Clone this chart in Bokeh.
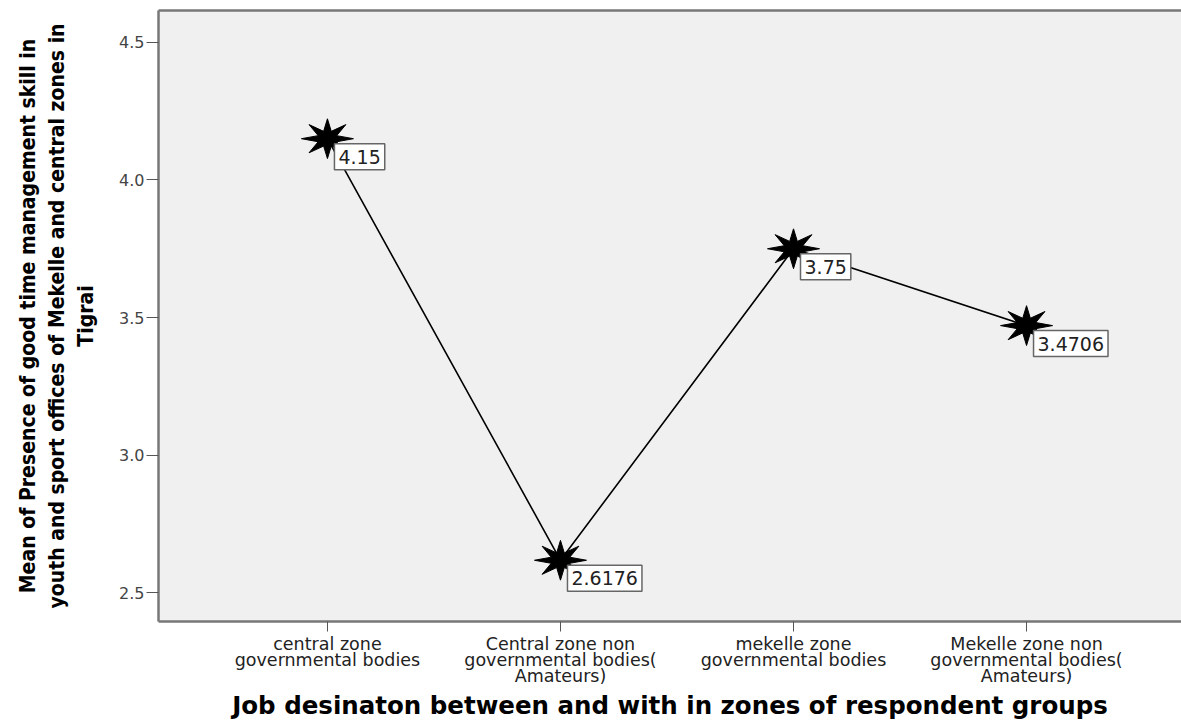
from bokeh.plotting import figure
from bokeh.models import Range1d, FixedTicker, PrintfTickFormatter, Label, LinearAxis
from bokeh.embed import file_html
from bokeh.resources import INLINE
import math

# ---- data ----
categories = [
    "central zone\ngovernmental bodies",
    "Central zone non\ngovernmental bodies(\nAmateurs)",
    "mekelle zone\ngovernmental bodies",
    "Mekelle zone non\ngovernmental bodies(\nAmateurs)",
]
means = [4.15, 2.6176, 3.75, 3.4706]
mean_labels = ["4.15", "2.6176", "3.75", "3.4706"]
y_ticks = [2.5, 3.0, 3.5, 4.0, 4.5]

x_title = "Job desinaton between and with in zones of respondent groups"
y_title = ("Mean of Presence of good time management skill in\n"
           "youth and sport offices of Mekelle and central zones in\n"
           "Tigrai")

xs = list(range(len(categories)))

W, H = 1181, 723
BL, BR, BT, BB = 158, 0, 10, 99
x0, x1 = -0.725, 3.665
y0, y1 = 2.395, 4.616

p = figure(width=W, height=H, output_backend="svg", toolbar_location=None,
           x_range=Range1d(x0, x1), y_range=Range1d(y0, y1),
           min_border_left=BL, min_border_right=BR, min_border_top=BT, min_border_bottom=BB)
p.background_fill_color = "#f0f0f0"
p.border_fill_color = "white"
p.outline_line_color = None
p.grid.visible = False

frame_color = "#777777"

fw = W - BL - BR
fh = H - BT - BB
sx = fw / (x1 - x0)
sy = fh / (y1 - y0)

# top frame line (axis without ticks/labels)
top = LinearAxis(ticker=FixedTicker(ticks=[]),
                 axis_line_color=frame_color, axis_line_width=2.5,
                 major_tick_line_color=None, minor_tick_line_color=None)
p.add_layout(top, "above")

# x axis
xa = p.below[0]
xa.ticker = FixedTicker(ticks=xs)
xa.major_label_overrides = {i: c for i, c in enumerate(categories)}
xa.major_label_text_font = "DejaVu Sans"
xa.major_label_text_font_size = "17.5px"
xa.major_label_text_line_height = 0.82
xa.major_label_text_color = "#222222"
xa.major_label_standoff = 2
xa.major_tick_out = 10
xa.major_tick_in = 0
xa.minor_tick_line_color = None
xa.axis_line_color = frame_color
xa.axis_line_width = 2.5
xa.major_tick_line_color = "#555555"
xa.axis_label = x_title
xa.axis_label_text_font = "DejaVu Sans"
xa.axis_label_text_font_style = "bold"
xa.axis_label_text_font_size = "24.5px"
xa.axis_label_text_color = "black"
xa.axis_label_standoff = 2

# y axis
ya = p.left[0]
ya.ticker = FixedTicker(ticks=y_ticks)
ya.formatter = PrintfTickFormatter(format="%.1f")
ya.major_label_text_font = "DejaVu Sans"
ya.major_label_text_font_size = "16px"
ya.major_label_text_color = "#444444"
ya.major_label_standoff = 2
ya.major_tick_out = 12
ya.major_tick_in = 0
ya.minor_tick_line_color = None
ya.axis_line_color = frame_color
ya.axis_line_width = 2.5
ya.major_tick_line_color = "#555555"
ya.axis_label = y_title
ya.axis_label_text_font = "'DejaVu Sans Condensed', 'Roboto Condensed', 'Noto Sans', sans-serif"
ya.axis_label_text_font_style = "bold"
ya.axis_label_text_font_size = "21px"
ya.axis_label_text_line_height = 1.2
ya.axis_label_text_color = "black"
ya.axis_label_standoff = 18

# line
p.line(xs, means, line_color="black", line_width=1.6)

# 8-pointed stars around each point
rxo, ryo = 26 / sx, 20 / sy
rxi, ryi = 10 / sx, 8 / sy
star_xs, star_ys = [], []
for xv, yv in zip(xs, means):
    px, py = [], []
    for k in range(16):
        a = math.pi / 2 + k * math.pi / 8
        rx, ry = (rxo, ryo) if k % 2 == 0 else (rxi, ryi)
        px.append(xv + rx * math.cos(a))
        py.append(yv + ry * math.sin(a))
    star_xs.append(px)
    star_ys.append(py)
p.patches(star_xs, star_ys, fill_color="black", line_color="black", line_width=1)

# value labels
for xv, yv, t in zip(xs, means, mean_labels):
    p.add_layout(Label(x=xv, y=yv, text=t, x_offset=7, y_offset=-5,
                       text_align="left", text_baseline="top",
                       text_font="DejaVu Sans", text_font_size="19px", text_color="#222222",
                       background_fill_color="white", border_line_color="#666666",
                       border_line_width=1.5, padding=(4, 6)))

open("out.html", "w").write(file_html(p, INLINE))
